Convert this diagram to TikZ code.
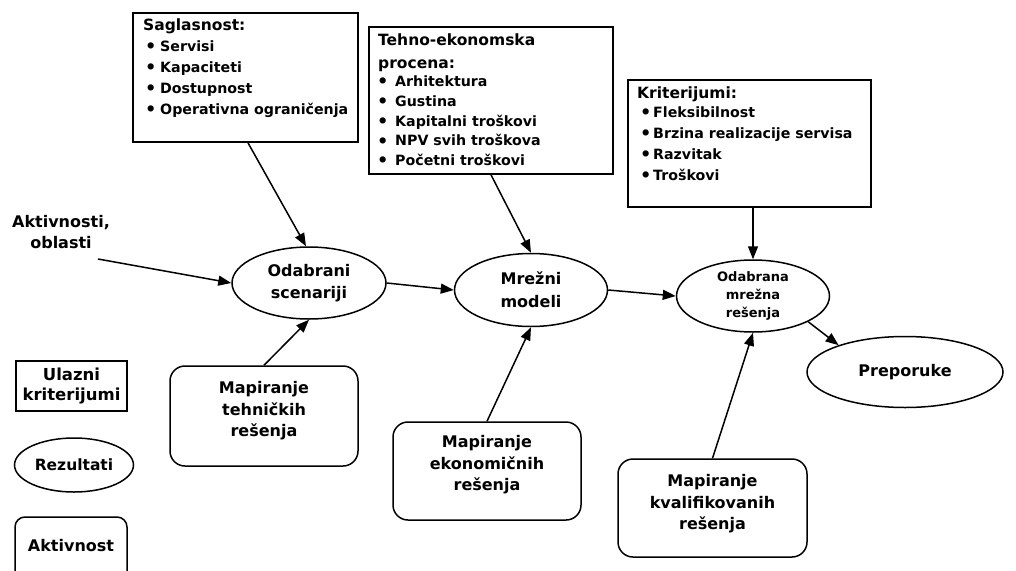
\documentclass[tikz,border=0pt]{standalone}
\usepackage{fontspec}
\setmainfont{DejaVu Sans}
\usetikzlibrary{shapes.geometric,arrows.meta}

% bullet item with a fixed indent for the text
\newcommand{\bul}[2][15pt]{\makebox[#1][l]{\raisebox{-1.3pt}{\scalebox{1.25}{•}}}#2}

\begin{document}
\begin{tikzpicture}[x=1pt,y=-1pt,
  infobox/.style={draw, rectangle, line width=1.7pt, inner sep=0pt},
  result/.style={draw, ellipse, line width=1.5pt, inner sep=0pt, align=center,
    font=\bfseries\fontsize{16}{21.5}\selectfont},
  activity/.style={draw, rectangle, rounded corners=15pt, line width=1.5pt, inner sep=0pt},
  lbl/.style={inner sep=0pt, align=center, font=\bfseries\fontsize{16}{21.5}\selectfont},
  listtitle/.style={anchor=north west, inner sep=0pt, align=left,
    font=\bfseries\fontsize{15.5}{22.5}\selectfont},
  listbody/.style={anchor=north west, inner sep=0pt, align=left,
    font=\bfseries\fontsize{14.2}{21}\selectfont},
  flow/.style={line width=1.5pt, -{Triangle[length=13pt,width=10pt]}}]

\fill[white] (0,0) rectangle (1016,570);
\useasboundingbox (0,0) rectangle (1016,570);

% ---- criteria boxes ----
\node[infobox, minimum width=225pt, minimum height=129pt] (sag) at (245.5,77.5) {};
\node[listtitle] (sag-t) at (143,19) {Saglasnost:};
\node[listbody] (sag-l) at (145,40.5)
  {\bul{Servisi}\\ \bul{Kapaciteti}\\ \bul{Dostupnost}\\ \bul{Operativna ograničenja}};

\node[infobox, minimum width=244pt, minimum height=147pt] (teh) at (491,100.5) {};
\node[listtitle] (teh-t) at (378,34) {Tehno-ekonomska\\procena:};
\node[listbody, font=\bfseries\fontsize{14.2}{19.8}\selectfont] (teh-l) at (377,75.5)
  {\bul[18pt]{Arhitektura}\\ \bul[18pt]{Gustina}\\ \bul[18pt]{Kapitalni troškovi}\\
   \bul[18pt]{NPV svih troškova}\\ \bul[18pt]{Početni troškovi}};

\node[infobox, minimum width=243pt, minimum height=127pt] (kri) at (749.5,143.5) {};
\node[listtitle] (kri-t) at (637,87) {Kriterijumi:};
\node[listbody] (kri-l) at (640,106.5)
  {\bul[13pt]{Fleksibilnost}\\ \bul[13pt]{Brzina realizacije servisa}\\
   \bul[13pt]{Razvitak}\\ \bul[13pt]{Troškovi}};

% ---- results ----
\node[result, minimum width=154pt, minimum height=72pt] (odsc) at (309,283) {Odabrani\\scenariji};
\node[result, minimum width=153pt, minimum height=73pt,
  font=\bfseries\fontsize{16}{23}\selectfont] (mrez) at (531,290) {Mrežni\\modeli};
\node[result, minimum width=153pt, minimum height=72pt,
  font=\bfseries\fontsize{13}{18}\selectfont] (odmr) at (753,296) {Odabrana\\mrežna\\rešenja};
\node[result, minimum width=196pt, minimum height=71pt] (prep) at (905,372) {Preporuke};

% ---- activities ----
\node[activity, minimum width=188pt, minimum height=100pt] (maptech) at (264,416) {};
\node[lbl] (maptech-t) at ([yshift=5pt]maptech.center) {Mapiranje\\tehničkih\\rešenja};
\node[activity, minimum width=188pt, minimum height=98pt] (mapeko) at (487,471) {};
\node[lbl] (mapeko-t) at ([yshift=6pt]mapeko.center) {Mapiranje\\ekonomičnih\\rešenja};
\node[activity, minimum width=189pt, minimum height=98pt] (mapkval) at (712.5,508) {};
\node[lbl] (mapkval-t) at ([yshift=4pt]mapkval.center) {Mapiranje\\kvalifikovanih\\rešenja};

% ---- input ----
\node[lbl, font=\bfseries\fontsize{16}{21}\selectfont] (akt) at (61,232) {Aktivnosti,\\oblasti};
\coordinate (akt-end) at (98,259);

% ---- legend ----
\node[infobox, minimum width=111pt, minimum height=50pt, align=center,
  font=\bfseries\fontsize{16.5}{20}\selectfont] (ulaz) at (71.5,386) {Ulazni\\kriterijumi};
\node[result, minimum width=119pt, minimum height=54pt,
  font=\bfseries\fontsize{15.5}{20}\selectfont] (rez) at (74,465) {Rezultati};
\node[draw, rectangle, rounded corners=10pt, line width=1.5pt, inner sep=0pt,
  minimum width=112pt, text height=34pt, text depth=39pt, anchor=base,
  font=\bfseries\fontsize{16}{20}\selectfont] (aktv) at (71,551) {Aktivnost};

% ---- connectors ----
\draw[flow] (akt-end) -- (odsc.west);
\draw[flow] ([xshift=2.5pt]sag.south) -- ([xshift=-3pt]odsc.north);
\draw[flow] (maptech.north) -- (odsc.south);
\draw[flow] (odsc.east) -- (mrez.west);
\draw[flow] (teh.south) -- (mrez.north);
\draw[flow] (mapeko.north) -- (mrez.south);
\draw[flow] (mrez.east) -- (odmr.west);
\draw[flow] (kri.south -| odmr.north) -- (odmr.north);
\draw[flow] (mapkval.north) -- (odmr.south);
\draw[flow] (odmr.-25) -- (prep.158);

\end{tikzpicture}
\end{document}
